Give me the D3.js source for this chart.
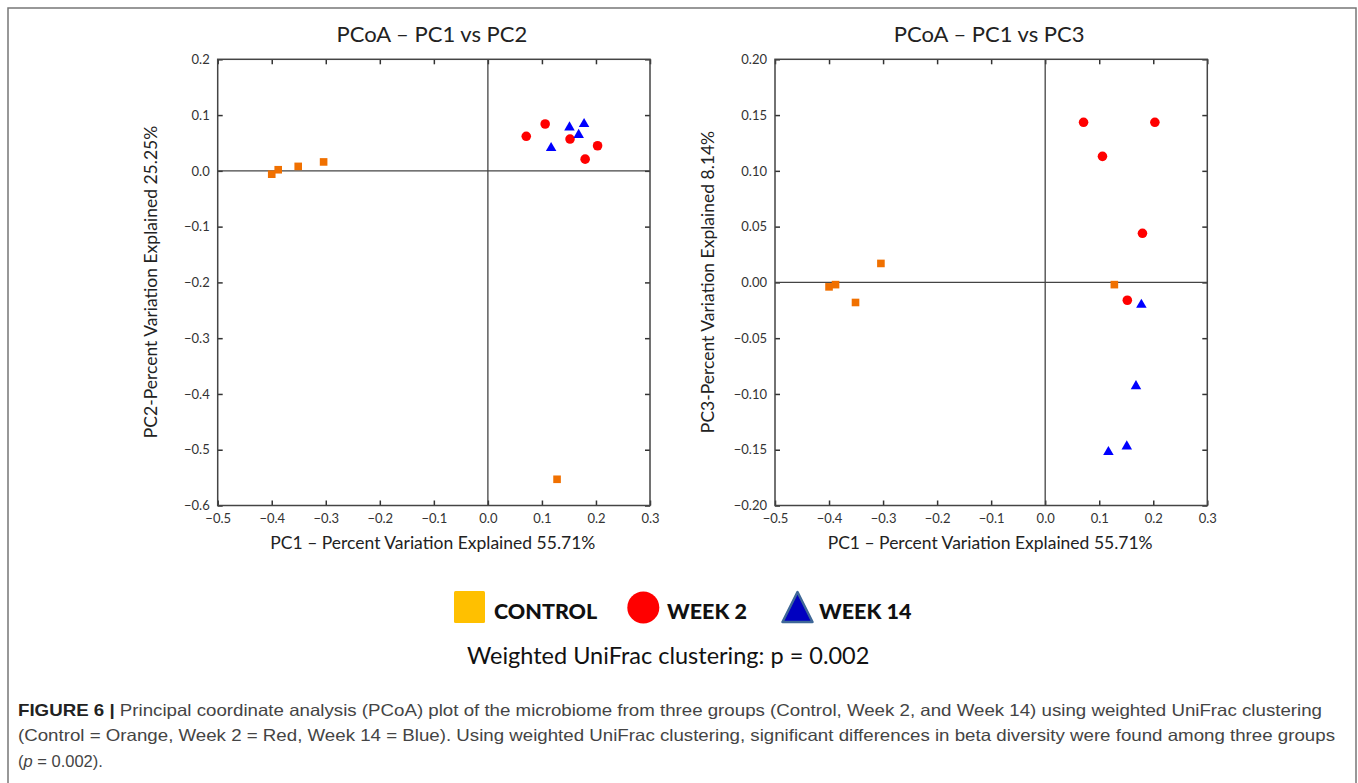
<!DOCTYPE html>
<html>
<head>
<meta charset="utf-8">
<script src="https://cdn.jsdelivr.net/npm/d3@7"></script>
<style>
  body { margin: 0; background: #fff; }
  svg { display: block; }
  .tick-label { font-family: Lato, "Open Sans", sans-serif; font-size: 13px; fill: #333; }
  .axis-title { font-family: Lato, "Open Sans", sans-serif; font-size: 17.5px; fill: #222; }
  .panel-title { font-family: Lato, "Open Sans", sans-serif; font-size: 22px; fill: #222; }
  .legend-label { font-family: Lato, "Open Sans", sans-serif; font-size: 21.5px; font-weight: 900; fill: #111; }
  .caption { font-family: "Liberation Sans", Arial, sans-serif; font-size: 16.5px; fill: #444; }
</style>
</head>
<body>
<svg id="chart" width="1358" height="783"></svg>
<script>
// ======================================================
// DATA
var groups = ["CONTROL", "WEEK 2", "WEEK 14"];

var controlPC1 = [-0.400, -0.388, -0.351, -0.304, 0.128];
var controlPC2 = [-0.006, 0.002, 0.008, 0.016, -0.553];
var controlPC3 = [-0.004, -0.002, -0.018, 0.017, -0.002];

var week2PC1 = [0.071, 0.106, 0.152, 0.203, 0.180];
var week2PC2 = [0.062, 0.084, 0.057, 0.045, 0.021];
var week2PC3 = [0.1435, 0.113, -0.016, 0.1435, 0.044];

var week14PC1 = [0.151, 0.178, 0.168, 0.117];
var week14PC2 = [0.078, 0.084, 0.0645, 0.041];
var week14PC3 = [-0.147, -0.020, -0.093, -0.152];

var xTicks = [-0.5, -0.4, -0.3, -0.2, -0.1, 0.0, 0.1, 0.2, 0.3];
var pc2Ticks = [-0.6, -0.5, -0.4, -0.3, -0.2, -0.1, 0.0, 0.1, 0.2];
var pc3Ticks = [-0.20, -0.15, -0.10, -0.05, 0.00, 0.05, 0.10, 0.15, 0.20];

var pValue = 0.002;

function rows(pc1, other, group) {
    return pc1.map(function(v, i) { return {x: v, y: other[i], group: group}; });
}

var svg = d3.select("#chart");

// figure frame
svg.append("path")
    .attr("d", "M8,783 L8,8 L1356,8 L1356,783")
    .attr("fill", "none")
    .attr("stroke", "#777")
    .attr("stroke-width", 1.5);

var colors = {"CONTROL": "#f07000", "WEEK 2": "#ff0000", "WEEK 14": "#0000ff"};
var shapes = {"CONTROL": d3.symbolSquare, "WEEK 2": d3.symbolCircle, "WEEK 14": d3.symbolTriangle};
var sizes = {"CONTROL": 58, "WEEK 2": 72, "WEEK 14": 48};

function drawPanel(cfg) {
    var xScale = d3.scaleLinear().domain([-0.5, 0.3]).range([cfg.left, cfg.right]);
    var yScale = d3.scaleLinear().domain(cfg.yDomain).range([505.5, 59.3]);
    var g = svg.append("g");
    var w = cfg.right - cfg.left;
    var h = 505.5 - 59.3;

    // ticks on all four sides, pointing in
    g.append("g")
        .attr("transform", "translate(0,505.5)")
        .call(d3.axisBottom(xScale).tickValues(xTicks).tickSize(-5).tickFormat(d3.format(".1f")).tickPadding(8))
        .call(function(a) { a.select(".domain").remove(); });
    g.append("g")
        .attr("transform", "translate(0,59.3)")
        .call(d3.axisTop(xScale).tickValues(xTicks).tickSize(-5).tickFormat(""))
        .call(function(a) { a.select(".domain").remove(); });
    g.append("g")
        .attr("transform", "translate(" + cfg.left + ",0)")
        .call(d3.axisLeft(yScale).tickValues(cfg.yTicks).tickSize(-5).tickFormat(d3.format(cfg.yFormat)).tickPadding(8))
        .call(function(a) { a.select(".domain").remove(); });
    g.append("g")
        .attr("transform", "translate(" + cfg.right + ",0)")
        .call(d3.axisRight(yScale).tickValues(cfg.yTicks).tickSize(-5).tickFormat(""))
        .call(function(a) { a.select(".domain").remove(); });

    g.selectAll(".tick line").attr("stroke", "#333").attr("stroke-width", 1.5);
    g.selectAll(".tick text").attr("class", "tick-label").attr("font-family", null).attr("font-size", null);

    // zero lines
    g.append("line")
        .attr("x1", cfg.left).attr("x2", cfg.right)
        .attr("y1", yScale(0)).attr("y2", yScale(0))
        .attr("stroke", "#444").attr("stroke-width", 1.3);
    g.append("line")
        .attr("x1", xScale(0)).attr("x2", xScale(0))
        .attr("y1", 59.3).attr("y2", 505.5)
        .attr("stroke", "#444").attr("stroke-width", 1.3);

    // frame
    g.append("rect")
        .attr("x", cfg.left).attr("y", 59.3)
        .attr("width", w).attr("height", h)
        .attr("fill", "none")
        .attr("stroke", "#444")
        .attr("stroke-width", 1.5);

    // points
    g.selectAll("path.pt")
        .data(cfg.data)
        .enter()
        .append("path")
        .attr("class", "pt")
        .attr("transform", function(d) { return "translate(" + xScale(d.x) + "," + yScale(d.y) + ")"; })
        .attr("d", function(d) { return d3.symbol().type(shapes[d.group]).size(sizes[d.group])(); })
        .attr("fill", function(d) { return colors[d.group]; });

    // titles
    g.append("text")
        .attr("class", "panel-title")
        .attr("x", (cfg.left + cfg.right) / 2 - 2)
        .attr("y", 42)
        .attr("text-anchor", "middle")
        .text(cfg.title);
    g.append("text")
        .attr("class", "axis-title")
        .attr("x", (cfg.left + cfg.right) / 2 - 1)
        .attr("y", 549)
        .attr("text-anchor", "middle")
        .text("PC1 \u2013 Percent Variation Explained 55.71%");
    g.append("text")
        .attr("class", "axis-title")
        .attr("transform", "translate(" + cfg.ylabelX + "," + 282 + ") rotate(-90)")
        .attr("text-anchor", "middle")
        .text(cfg.ylabel);
}

drawPanel({
    left: 217.7, right: 650,
    yDomain: [-0.6, 0.2], yTicks: pc2Ticks, yFormat: ".1f",
    title: "PCoA \u2013 PC1 vs PC2",
    ylabel: "PC2-Percent Variation Explained 25.25%",
    ylabelX: 157,
    data: rows(controlPC1, controlPC2, groups[0])
        .concat(rows(week2PC1, week2PC2, groups[1]))
        .concat(rows(week14PC1, week14PC2, groups[2]))
});

drawPanel({
    left: 775, right: 1207.3,
    yDomain: [-0.2, 0.2], yTicks: pc3Ticks, yFormat: ".2f",
    title: "PCoA \u2013 PC1 vs PC3",
    ylabel: "PC3-Percent Variation Explained 8.14%",
    ylabelX: 714,
    data: rows(controlPC1, controlPC3, groups[0])
        .concat(rows(week2PC1, week2PC3, groups[1]))
        .concat(rows(week14PC1, week14PC3, groups[2]))
});

// ======================================================
// LEGEND
var legend = svg.append("g");
legend.append("rect")
    .attr("x", 454).attr("y", 591).attr("width", 31).attr("height", 32)
    .attr("rx", 1.5)
    .attr("fill", "#ffc000");
legend.append("circle")
    .attr("cx", 643.3).attr("cy", 607.5).attr("r", 16)
    .attr("fill", "#ff0000");
legend.append("path")
    .attr("d", "M782.5,622 L797.5,592 L812.5,622 Z")
    .attr("fill", "#0000c0")
    .attr("stroke", "#3f6898")
    .attr("stroke-width", 2.5)
    .attr("stroke-linejoin", "round");

var legendX = [494, 667, 819];
legend.selectAll("text")
    .data(groups)
    .enter()
    .append("text")
    .attr("class", "legend-label")
    .attr("x", function(d, i) { return legendX[i]; })
    .attr("y", 619)
    .text(function(d) { return d; });

svg.append("text")
    .attr("x", 467)
    .attr("y", 664)
    .attr("font-family", "Lato, 'Open Sans', sans-serif")
    .attr("font-size", 23.5)
    .attr("fill", "#111")
    .text("Weighted UniFrac clustering: p = " + d3.format(".3f")(pValue));

// ======================================================
// CAPTION
var captionLines = [
    {bold: "FIGURE 6 | ", text: "Principal coordinate analysis (PCoA) plot of the microbiome from three groups (Control, Week 2, and Week 14) using weighted UniFrac clustering", y: 716, len: 1304},
    {bold: "", text: "(Control = Orange, Week 2 = Red, Week 14 = Blue). Using weighted UniFrac clustering, significant differences in beta diversity were found among three groups", y: 741, len: 1317},
    {bold: "", text: "(", ital: "p", rest: " = 0.002).", y: 767, len: 0}
];
captionLines.forEach(function(l) {
    var t = svg.append("text")
        .attr("class", "caption")
        .attr("x", 18)
        .attr("y", l.y);
    if (l.len) t.attr("textLength", l.len).attr("lengthAdjust", "spacingAndGlyphs");
    if (l.bold) t.append("tspan").attr("font-weight", "bold").attr("fill", "#222").text(l.bold);
    t.append("tspan").text(l.text);
    if (l.ital) {
        t.append("tspan").attr("font-style", "italic").text(l.ital);
        t.append("tspan").text(l.rest);
    }
});
</script>
</body>
</html>
